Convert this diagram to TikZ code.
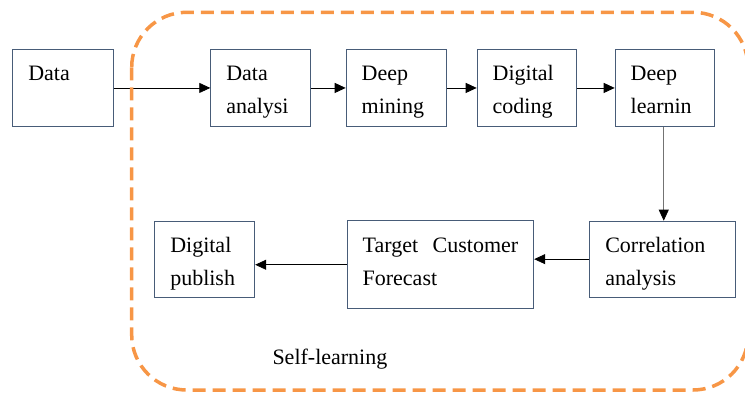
\documentclass[tikz,border=0pt]{standalone}
\usepackage{fontspec}
\setmainfont{Liberation Serif}
\usetikzlibrary{arrows.meta}
\definecolor{boxcol}{RGB}{72,92,120}
\definecolor{dashcol}{RGB}{247,150,70}
\newcommand\mystrut{\rule[-7pt]{0pt}{33pt}}
\begin{document}
\begin{tikzpicture}[x=1pt,y=-1pt,
  stepbox/.style={draw=boxcol, line width=0.9pt, align=left, inner xsep=15.5pt,
    inner ysep=0pt, font=\rmfamily\fontsize{22}{33}\selectfont, anchor=north west},
  conn/.style={line width=0.8pt, -{Triangle[length=11pt,width=10pt,color=black]}},
  lbl/.style={font=\rmfamily\fontsize{22}{33}\selectfont, inner sep=0pt}
]
\useasboundingbox (0,0) rectangle (745,393);

\node[stepbox, text width=69.4pt, minimum height=76.4pt] (d0) at (12.3,49.3) {\mystrut Data\\\mystrut};
\node[stepbox, text width=69pt, minimum height=76.4pt] (d1) at (210.3,49.3) {\mystrut Data\\\mystrut analysi};
\node[stepbox, text width=69.3pt, minimum height=76.4pt] (d2) at (345.7,49.3) {\mystrut Deep\\\mystrut mining};
\node[stepbox, text width=68pt, minimum height=76.4pt] (d3) at (476.7,49.3) {\mystrut Digital\\\mystrut coding};
\node[stepbox, text width=68.6pt, minimum height=76.4pt] (d4) at (614.7,49.3) {\mystrut Deep\\\mystrut learnin};
\node[stepbox, text width=115pt, minimum height=76pt] (d5) at (589.3,220.7) {\mystrut Correlation\\\mystrut analysis};
\node[stepbox, text width=155.6pt, minimum height=88pt] (d6) at (346.7,220.3) {\mystrut Target\hfill Customer\\\mystrut Forecast\rule[-18.2pt]{0pt}{1pt}};
\node[stepbox, text width=69pt, minimum height=76.6pt] (d7) at (154.3,220.7) {\mystrut Digital\\\mystrut publish};

\draw[conn] (d0.east) -- (d1.west);
\draw[conn] (d1.east) -- (d2.west);
\draw[conn] (d2.east) -- (d3.west);
\draw[conn] (d3.east) -- (d4.west);
\draw[conn, draw=black!55] ([xshift=-1.2pt]d4.south) -- ([xshift=1pt]d5.north);
\draw[conn] (d5.west) -- (d5.west -| d6.east);
\draw[conn] (d6.west) -- (d6.west -| d7.east);

\node[lbl, anchor=base west] (sl) at (272.3,364) {Self-learning};

\draw[dashcol, line width=3.5pt, dash pattern=on 13pt off 7pt, rounded corners=55pt]
  (131.7,12.3) rectangle (748,390);
\end{tikzpicture}
\end{document}
